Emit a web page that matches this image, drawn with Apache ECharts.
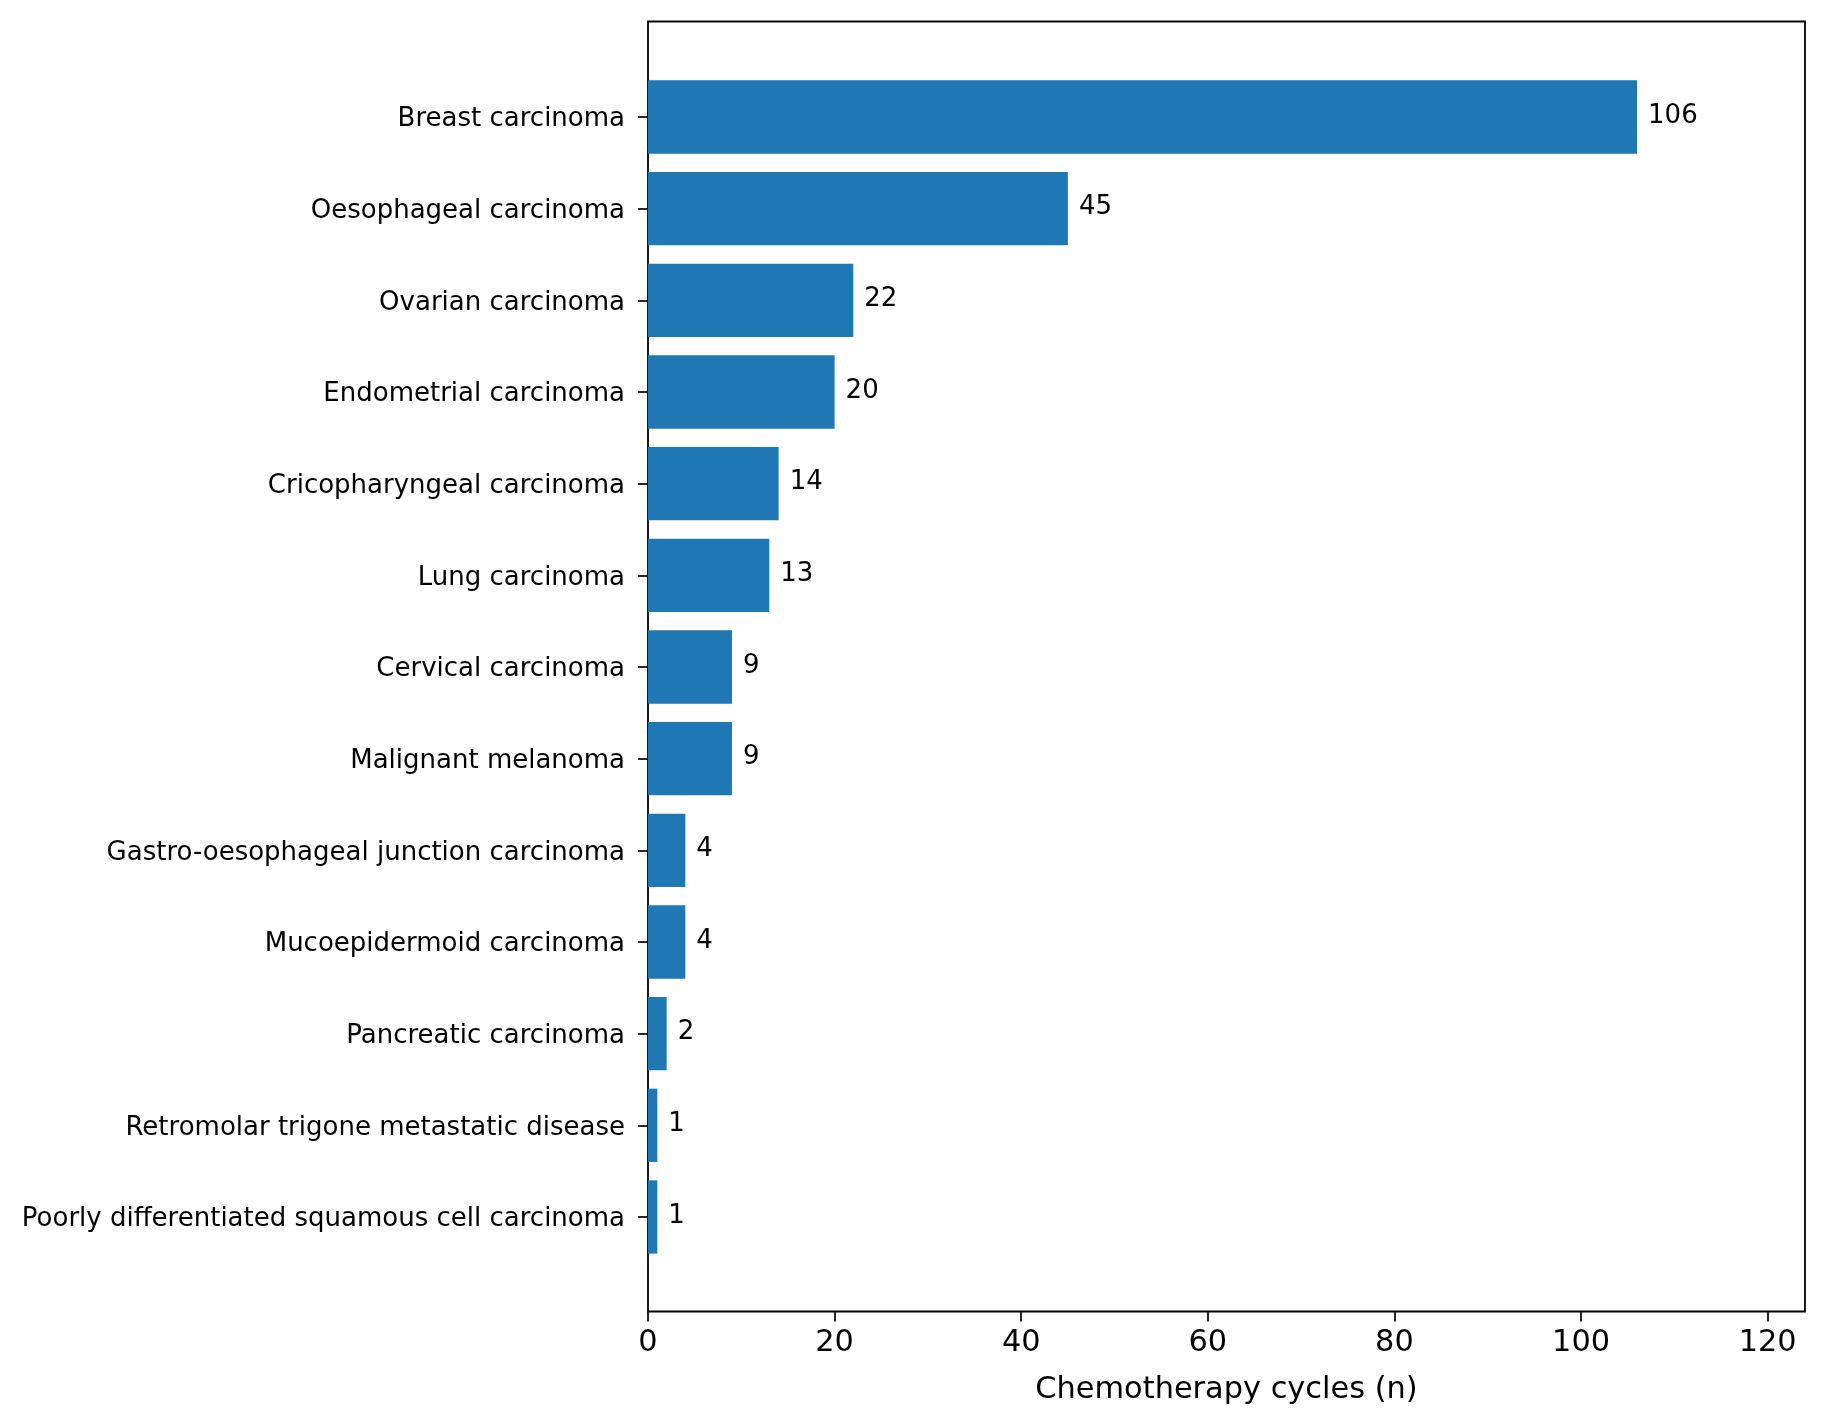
<!DOCTYPE html>
<html>
<head>
<meta charset="utf-8">
<script src="https://cdn.jsdelivr.net/npm/echarts@6/dist/echarts.min.js"></script>
<style>
  html, body { margin: 0; padding: 0; background: #fff; }
  #chart { width: 1826px; height: 1426px; }
</style>
</head>
<body>
<div id="chart"></div>
<script>
// categories top to bottom
const categories = [
  'Breast carcinoma',
  'Oesophageal carcinoma',
  'Ovarian carcinoma',
  'Endometrial carcinoma',
  'Cricopharyngeal carcinoma',
  'Lung carcinoma',
  'Cervical carcinoma',
  'Malignant melanoma',
  'Gastro-oesophageal junction carcinoma',
  'Mucoepidermoid carcinoma',
  'Pancreatic carcinoma',
  'Retromolar trigone metastatic disease',
  'Poorly differentiated squamous cell carcinoma'
];
const cycles = [106, 45, 22, 20, 14, 13, 9, 9, 4, 4, 2, 1, 1];
const xTicks = [0, 20, 40, 60, 80, 100, 120];
const xMax = 124;

const font = 'DejaVu Sans';
const chart = echarts.init(document.getElementById('chart'), null, { renderer: 'canvas' });

const option = {
  animation: false,
  backgroundColor: '#fff',
  grid: [
    // frame + x axis
    { left: 648, right: 21, top: 21.5, bottom: 114.5, show: true, borderColor: '#000', borderWidth: 1.8, backgroundColor: 'transparent' },
    // bars (category bands narrower than the frame)
    { left: 648, right: 21, top: 71.2, bottom: 163.2 }
  ],
  xAxis: [
    {
      gridIndex: 0, type: 'value', min: 0, max: xMax,
      axisLine: { show: false },
      splitLine: { show: false },
      axisTick: { show: true, length: 10, lineStyle: { color: '#000', width: 1.7 }, customValues: xTicks },
      axisLabel: { customValues: xTicks, color: '#000', fontFamily: font, fontSize: 30.4, margin: 17 },
      name: 'Chemotherapy cycles (n)', nameLocation: 'middle', nameGap: 64,
      nameTextStyle: { color: '#000', fontFamily: font, fontSize: 30.4 }
    },
    { gridIndex: 1, type: 'value', min: 0, max: xMax, show: false }
  ],
  yAxis: [
    { gridIndex: 0, type: 'value', show: false },
    {
      gridIndex: 1, type: 'category', data: categories, inverse: true,
      axisLine: { show: false },
      axisTick: { show: true, alignWithLabel: true, length: 10, lineStyle: { color: '#000', width: 1.7 } },
      axisLabel: { color: '#000', fontFamily: font, fontSize: 26, margin: 23, verticalAlign: 'top', lineHeight: 5 }
    }
  ],
  series: [{
    type: 'bar',
    xAxisIndex: 1, yAxisIndex: 1,
    data: cycles,
    barWidth: '80%',
    itemStyle: { color: '#1f77b4' },
    label: {
      show: true, position: 'right', distance: 11, offset: [0, -1],
      color: '#000', fontFamily: font, fontSize: 26
    }
  }]
};

chart.setOption(option);
</script>
</body>
</html>
